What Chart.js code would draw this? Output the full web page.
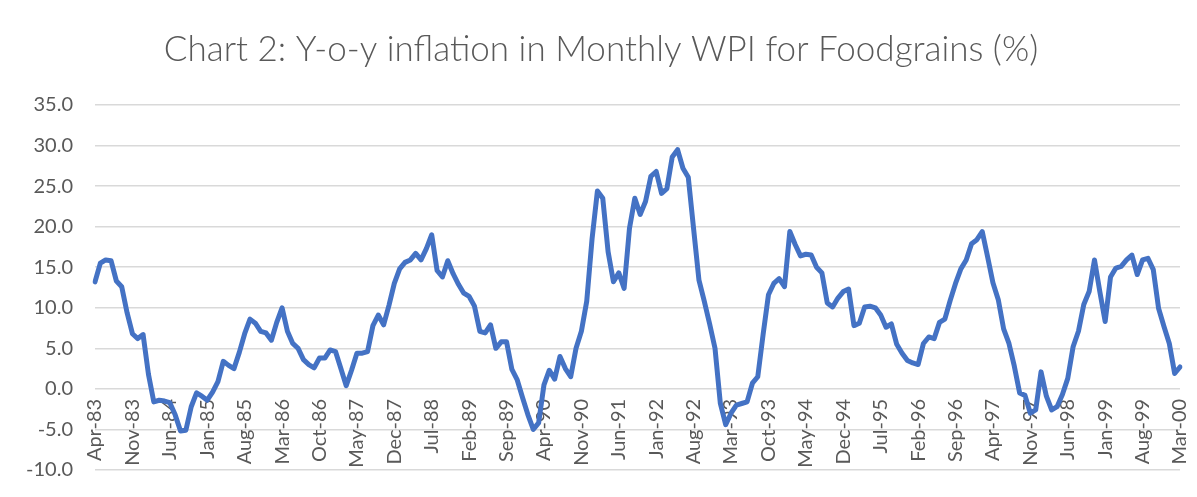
<!DOCTYPE html>
<html>
<head>
<meta charset="utf-8">
<script src="https://cdn.jsdelivr.net/npm/chart.js@4"></script>
<style>
  html, body { margin: 0; padding: 0; background: #ffffff; }
  #wrap { width: 1197px; height: 497px; position: relative; }
</style>
</head>
<body>
<div id="wrap"><canvas id="c" width="1197" height="497"></canvas></div>
<script>
// Y-o-y inflation (%), one array per fiscal year (Apr..Mar)
const fy1983 = [13.2, 15.5, 15.9, 15.8, 13.3, 12.6, 9.4, 6.8, 6.2, 6.7, 1.8, -1.6];
const fy1984 = [-1.4, -1.5, -1.7, -3.2, -5.2, -5.1, -2.2, -0.5, -0.9, -1.4, -0.4, 0.9];
const fy1985 = [3.4, 2.9, 2.5, 4.5, 6.8, 8.6, 8.1, 7.1, 6.9, 6.0, 8.2, 10.0];
const fy1986 = [7.1, 5.6, 5.0, 3.6, 3.0, 2.6, 3.8, 3.8, 4.8, 4.6, 2.5, 0.4];
const fy1987 = [2.3, 4.4, 4.4, 4.6, 7.8, 9.1, 7.9, 10.3, 13.0, 14.8, 15.6, 15.9];
const fy1988 = [16.7, 15.9, 17.3, 19.0, 14.6, 13.8, 15.8, 14.2, 12.9, 11.8, 11.4, 10.2];
const fy1989 = [7.1, 6.9, 7.9, 5.0, 5.8, 5.8, 2.4, 1.1, -1.1, -3.2, -5.0, -4.2];
const fy1990 = [0.5, 2.3, 1.2, 4.0, 2.5, 1.5, 5.0, 7.1, 10.8, 18.5, 24.4, 23.5];
const fy1991 = [16.9, 13.2, 14.3, 12.4, 19.8, 23.5, 21.5, 23.1, 26.2, 26.8, 24.1, 24.7];
const fy1992 = [28.6, 29.5, 27.2, 26.1, 19.7, 13.4, 10.8, 8.0, 5.0, -1.8, -4.4, -3.0];
const fy1993 = [-2.0, -1.8, -1.6, 0.7, 1.5, 6.7, 11.6, 13.0, 13.6, 12.6, 19.4, 17.8];
const fy1994 = [16.4, 16.6, 16.5, 15.0, 14.3, 10.6, 10.1, 11.2, 12.0, 12.3, 7.8, 8.1];
const fy1995 = [10.1, 10.2, 10.0, 9.1, 7.6, 8.0, 5.5, 4.4, 3.5, 3.2, 3.0, 5.6];
const fy1996 = [6.4, 6.2, 8.2, 8.6, 10.9, 13.0, 14.8, 15.9, 17.9, 18.4, 19.4, 16.3];
const fy1997 = [13.1, 11.0, 7.4, 5.6, 2.8, -0.5, -0.8, -3.0, -2.6, 2.1, -0.9, -2.6];
const fy1998 = [-2.2, -0.7, 1.3, 5.2, 7.1, 10.4, 12.0, 15.9, 12.0, 8.3, 13.8, 14.9];
const fy1999 = [15.1, 15.9, 16.5, 14.1, 15.9, 16.1, 14.7, 9.9, 7.7, 5.6, 1.9, 2.7];

const fiscalYears = [fy1983, fy1984, fy1985, fy1986, fy1987, fy1988, fy1989, fy1990, fy1991,
                     fy1992, fy1993, fy1994, fy1995, fy1996, fy1997, fy1998, fy1999];

// Month names; categories run Apr-83 .. Mar-00
const monthNames = ['Jan','Feb','Mar','Apr','May','Jun','Jul','Aug','Sep','Oct','Nov','Dec'];
const startYear = 1983;
const startMonth = 3; // April (0-based)

// Tick labels that are shown on the category axis
const tickLabels = ['Apr-83','Nov-83','Jun-84','Jan-85','Aug-85','Mar-86','Oct-86','May-87','Dec-87',
  'Jul-88','Feb-89','Sep-89','Apr-90','Nov-90','Jun-91','Jan-92','Aug-92','Mar-93','Oct-93',
  'May-94','Dec-94','Jul-95','Feb-96','Sep-96','Apr-97','Nov-97','Jun-98','Jan-99','Aug-99','Mar-00'];

const yTicks = [-10, -5, 0, 5, 10, 15, 20, 25, 30, 35];

const titleText = 'Chart 2: Y-o-y inflation in Monthly WPI for Foodgrains (%)';

// Build tables for the library
const values = [].concat(...fiscalYears);
const categories = values.map((_, i) => {
  const m = (startMonth + i) % 12;
  const y = startYear + Math.floor((startMonth + i) / 12);
  return monthNames[m] + '-' + String(y % 100).padStart(2, '0');
});

const textColor = '#595959';
const gridColor = '#d9d9d9';
const fontFamily = 'Lato, "Open Sans", sans-serif';

new Chart(document.getElementById('c'), {
  type: 'line',
  data: {
    labels: categories,
    datasets: [{
      data: values,
      borderColor: '#4472C4',
      backgroundColor: '#4472C4',
      borderWidth: 5,
      pointRadius: 0,
      pointHoverRadius: 0,
      tension: 0,
      borderJoinStyle: 'round',
      borderCapStyle: 'round',
      fill: false
    }]
  },
  options: {
    responsive: false,
    animation: false,
    devicePixelRatio: 1,
    layout: { padding: { left: 22, right: 17, top: 12, bottom: 27 } },
    plugins: {
      legend: { display: false },
      tooltip: { enabled: false },
      title: {
        display: true,
        text: titleText,
        color: textColor,
        font: { family: fontFamily, size: 35, weight: 300 },
        padding: { top: 17, bottom: 34 }
      }
    },
    scales: {
      x: {
        type: 'category',
        position: { y: 0 },
        offset: false,
        afterFit: (s) => { s.paddingLeft = 0; s.paddingRight = 0; s.paddingTop = 0; s.paddingBottom = 0; },
        grid: { display: false, drawTicks: false },
        border: { display: false },
        ticks: {
          autoSkip: false,
          maxRotation: 90,
          minRotation: 90,
          padding: 10,
          color: textColor,
          font: { family: fontFamily, size: 20 },
          callback: function (val, idx) {
            const lab = this.getLabelForValue(val);
            return tickLabels.includes(lab) ? lab : '';
          }
        }
      },
      y: {
        min: yTicks[0],
        max: yTicks[yTicks.length - 1],
        afterFit: (s) => { s.width = 73; s.paddingTop = 0; s.paddingBottom = 0; },
        afterBuildTicks: (scale) => { scale.ticks = yTicks.map(v => ({ value: v })); },
        grid: { color: gridColor, lineWidth: 1.5, drawTicks: false },
        border: { display: false },
        ticks: {
          padding: 22,
          color: textColor,
          font: { family: fontFamily, size: 20 },
          callback: (v) => Number(v).toFixed(1)
        }
      }
    }
  }
});
</script>
</body>
</html>
